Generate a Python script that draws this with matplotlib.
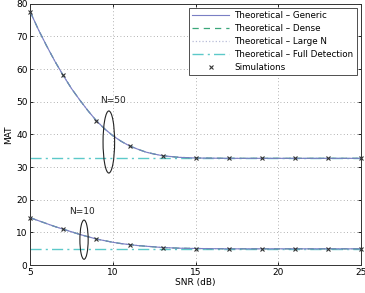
import matplotlib
matplotlib.use("Agg")
import matplotlib.pyplot as plt
from matplotlib.patches import Ellipse

snr_theory = [5, 5.5, 6, 6.5, 7, 7.5, 8, 8.5, 9, 9.5, 10, 10.5, 11, 11.5, 12, 12.5, 13, 14, 15, 16, 17, 18, 19, 20, 21, 22, 23, 24, 25]
mat50_theory = [77.5, 72.0, 67.0, 62.3, 58.0, 54.0, 50.5, 47.2, 44.2, 41.7, 39.6, 37.9, 36.5, 35.5, 34.6, 34.0, 33.5, 33.0, 32.8, 32.75, 32.7, 32.7, 32.7, 32.7, 32.7, 32.7, 32.7, 32.7, 32.7]
mat10_theory = [14.5, 13.6, 12.7, 11.8, 11.0, 10.2, 9.4, 8.7, 8.0, 7.5, 7.0, 6.6, 6.3, 6.0, 5.8, 5.6, 5.4, 5.2, 5.1, 5.05, 5.0, 5.0, 5.0, 5.0, 5.0, 5.0, 5.0, 5.0, 5.0]
snr_sim = [5, 7, 9, 11, 13, 15, 17, 19, 21, 23, 25]
mat50_sim = [77.5, 58.2, 44.0, 36.5, 33.5, 32.8, 32.7, 32.7, 32.7, 32.7, 32.7]
mat10_sim = [14.5, 11.0, 8.0, 6.3, 5.4, 5.1, 5.0, 5.0, 5.0, 5.0, 5.0]
full50 = 32.7
full10 = 5.0
xticks = [5, 10, 15, 20, 25]
yticks = [0, 10, 20, 30, 40, 50, 60, 70, 80]

plt.rcParams['font.family'] = ['DejaVu Sans']
fig = plt.figure(figsize=(3.65, 2.93), dpi=100)
ax = fig.add_axes([0.083, 0.095, 0.906, 0.892])

c_gen = '#7a7fc4'
c_dense = '#3aa77a'
c_large = '#b8bcd8'
c_full = '#5cc9c9'

for i, (th, sim, full) in enumerate([(mat50_theory, mat50_sim, full50), (mat10_theory, mat10_sim, full10)]):
    ax.plot([snr_theory[0], snr_theory[-1]], [full, full], color=c_full, ls=(0, (8, 3, 1.5, 3)), lw=1.0,
            label='Theoretical \u2013 Full Detection' if i == 0 else None, zorder=2)
    ax.plot(snr_theory, th, color=c_large, ls=':', lw=0.9,
            label='Theoretical \u2013 Large N' if i == 0 else None, zorder=3)
    ax.plot(snr_theory, th, color=c_dense, ls=(0, (5, 4)), lw=0.9,
            label='Theoretical \u2013 Dense' if i == 0 else None, zorder=4)
    ax.plot(snr_theory, th, color=c_gen, ls='-', lw=0.8,
            label='Theoretical \u2013 Generic' if i == 0 else None, zorder=5)
    ax.plot(snr_sim, sim, ls='none', marker='x', ms=3.5, mew=0.8, color='#333333',
            label='Simulations' if i == 0 else None, zorder=6, clip_on=False)

ax.add_patch(Ellipse((9.75, 37.7), 0.7, 19, fill=False, ec='#222222', lw=0.8, zorder=7))
ax.add_patch(Ellipse((8.25, 7.8), 0.5, 12, fill=False, ec='#222222', lw=0.8, zorder=7))
ax.text(10.0, 50.5, 'N=50', fontsize=6.5, ha='center', va='center', color='#222222')
ax.text(8.15, 16.5, 'N=10', fontsize=6.5, ha='center', va='center', color='#222222')

ax.set_xlim(5, 25)
ax.set_ylim(0, 80)
ax.set_xticks(xticks)
ax.set_yticks(yticks)
ax.tick_params(labelsize=6.5, direction='in', length=2.5, width=0.6, pad=2, top=True, right=True)
ax.grid(True, ls=(0, (1, 3)), color='#999999', lw=0.6)
for s in ax.spines.values():
    s.set_linewidth(0.7)
    s.set_color('#333333')
ax.set_xlabel('SNR (dB)', fontsize=6.5, labelpad=1)
ax.set_ylabel('MAT', fontsize=6.5, labelpad=2)

h, l = ax.get_legend_handles_labels()
order = ['Theoretical \u2013 Generic', 'Theoretical \u2013 Dense', 'Theoretical \u2013 Large N',
         'Theoretical \u2013 Full Detection', 'Simulations']
hd = dict(zip(l, h))
leg = ax.legend([hd[k] for k in order], order, loc='upper right', fontsize=6.3, frameon=True,
                fancybox=False, edgecolor='#333333', framealpha=1, handlelength=4.2,
                borderpad=0.35, labelspacing=0.45, handletextpad=0.6, borderaxespad=0.5)
leg.get_frame().set_linewidth(0.6)

fig.savefig('out.png', dpi=100)
